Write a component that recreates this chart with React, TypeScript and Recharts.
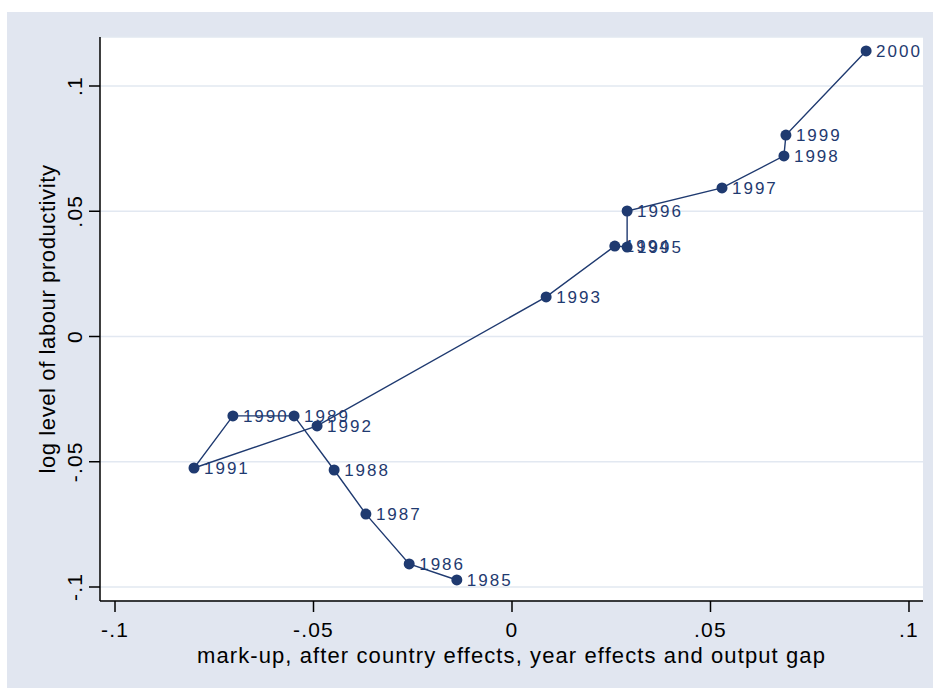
import { LineChart, Line, XAxis, YAxis, CartesianGrid, LabelList, Label } from "recharts";

const years = [1985, 1986, 1987, 1988, 1989, 1990, 1991, 1992, 1993, 1994, 1995, 1996, 1997, 1998, 1999, 2000];
const markup = [-0.0139, -0.0259, -0.0368, -0.0448, -0.0549, -0.0703, -0.0801, -0.0491, 0.0086, 0.0259, 0.029, 0.029, 0.0529, 0.0685, 0.069, 0.0892];
const productivity = [-0.0972, -0.0908, -0.0709, -0.0533, -0.0317, -0.0317, -0.0525, -0.0357, 0.0158, 0.0361, 0.0357, 0.0501, 0.0593, 0.0721, 0.0804, 0.114];

const xTicks = [-0.1, -0.05, 0, 0.05, 0.1];
const yTicks = [-0.1, -0.05, 0, 0.05, 0.1];

const NAVY = "#1f3a70";
const FONT = "'Liberation Sans', Arial, Helvetica, sans-serif";

const rows = years.map((year, i) => ({ year, markup: markup[i], prod: productivity[i] }));

// Stata-style tick text: ".05" instead of "0.05"
const fmt = (v: number) => {
  if (v === 0) return "0";
  const s = String(v);
  return s.replace("0.", ".");
};

function XTick({ x, y, payload }: any) {
  return (
    <text x={x} y={y + 23} textAnchor="middle" fontSize={21} letterSpacing={1.2} fill="#000" fontFamily={FONT}>
      {fmt(payload.value)}
    </text>
  );
}

function YTick({ x, y, payload }: any) {
  const cx = x - 12;
  return (
    <text
      x={cx}
      y={y}
      transform={`rotate(-90, ${cx}, ${y})`}
      textAnchor="middle"
      dominantBaseline="central"
      fontSize={21}
      letterSpacing={1.2}
      fill="#000"
      fontFamily={FONT}
    >
      {fmt(payload.value)}
    </text>
  );
}

function YearLabel({ x, y, value }: any) {
  return (
    <text x={x + 10} y={y + 6} fontSize={17} letterSpacing={2} fill={NAVY} fontFamily={FONT}>
      {value}
    </text>
  );
}

export default function App() {
  return (
    <div style={{ position: "absolute", left: 7, top: 12, width: 926, height: 676, background: "#e1e6f0" }}>
      <LineChart width={926} height={676} data={rows} margin={{ top: 25, right: 10, left: 0, bottom: 0 }}>
        <CartesianGrid vertical={false} fill="#ffffff" stroke="#e2e8f1" strokeWidth={1.5} />
        <XAxis
          type="number"
          dataKey="markup"
          domain={[-0.10378, 0.10353]}
          ticks={xTicks}
          height={87}
          axisLine={{ stroke: "#000", strokeWidth: 1.5 }}
          tickLine={{ stroke: "#000", strokeWidth: 1.5 }}
          tickSize={11}
          tick={XTick}
        >
          <Label
            content={({ viewBox }: any) => (
              <text
                x={viewBox.x + viewBox.width / 2}
                y={viewBox.y + 62}
                textAnchor="middle"
                fontSize={22}
                letterSpacing={1.1}
                fill="#000"
                fontFamily={FONT}
              >
                mark-up, after country effects, year effects and output gap
              </text>
            )}
          />
        </XAxis>
        <YAxis
          type="number"
          domain={[-0.10559, 0.11956]}
          ticks={yTicks}
          width={93}
          axisLine={{ stroke: "#000", strokeWidth: 1.5 }}
          tickLine={{ stroke: "#000", strokeWidth: 1.5 }}
          tickSize={11}
          tick={YTick}
        >
          <Label
            content={({ viewBox }: any) => {
              const cx = 40;
              const cy = viewBox.y + viewBox.height / 2;
              return (
                <text
                  x={cx}
                  y={cy}
                  transform={`rotate(-90, ${cx}, ${cy})`}
                  textAnchor="middle"
                  dominantBaseline="central"
                  fontSize={22}
                  letterSpacing={0.6}
                  fill="#000"
                  fontFamily={FONT}
                >
                  log level of labour productivity
                </text>
              );
            }}
          />
        </YAxis>
        <Line
          type="linear"
          dataKey="prod"
          stroke={NAVY}
          strokeWidth={1.4}
          dot={{ r: 5.5, fill: NAVY, stroke: NAVY, strokeWidth: 0 }}
          isAnimationActive={false}
        >
          <LabelList dataKey="year" content={YearLabel} />
        </Line>
      </LineChart>
    </div>
  );
}
